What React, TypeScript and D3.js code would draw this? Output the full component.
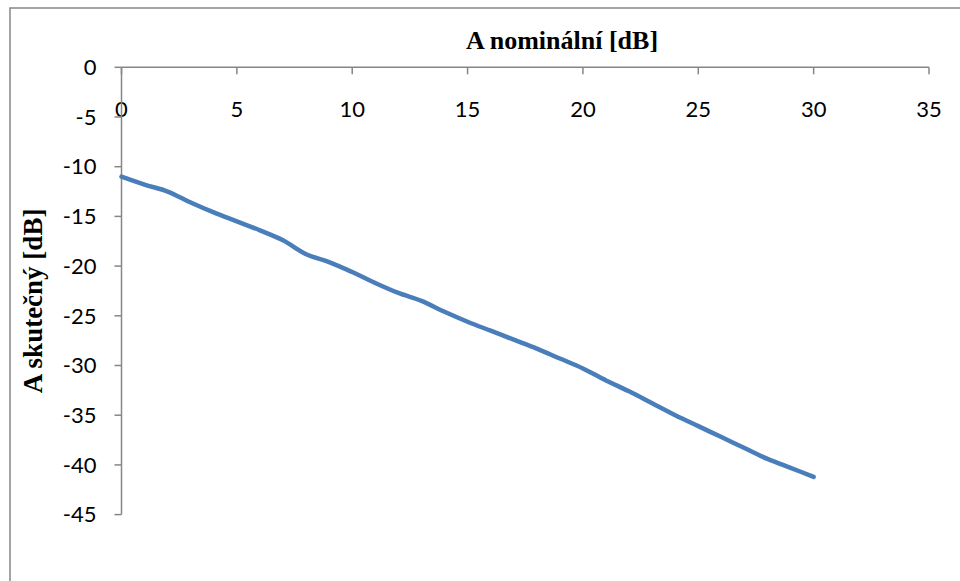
import React from "react";
import * as d3 from "d3";

const xNominal: number[] = [0,1,2,3,4,5,6,7,8,9,10,11,12,13,14,15,16,17,18,19,20,21,22,23,24,25,26,27,28,29,30];
const yActual: number[] = [-11,-11.8,-12.5,-13.6,-14.6,-15.5,-16.4,-17.4,-18.8,-19.6,-20.6,-21.7,-22.7,-23.5,-24.6,-25.6,-26.5,-27.4,-28.3,-29.3,-30.3,-31.5,-32.6,-33.8,-35.0,-36.1,-37.2,-38.3,-39.4,-40.3,-41.2];
const xTicks: number[] = [0,5,10,15,20,25,30,35];
const yTicks: number[] = [0,-5,-10,-15,-20,-25,-30,-35,-40,-45];
const xTitle = "A nominální [dB]";
const yTitle = "A skutečný [dB]";

export default function App() {
  const W = 960, H = 581;
  const x = d3.scaleLinear().domain([0, 35]).range([121.5, 929]);
  const y = d3.scaleLinear().domain([-45, 0]).range([514.6, 67.3]);
  const axisColor = "#868686";
  const tick = 7;
  const line = d3
    .line<number>()
    .x((_, i) => x(xNominal[i]))
    .y((d) => y(d))
    .curve(d3.curveCatmullRom.alpha(0.5));
  const labelFont = "Lato, 'Open Sans', sans-serif";
  const titleFont = "'Liberation Serif', 'Times New Roman', serif";
  return (
    <svg width={W} height={H} style={{ position: "absolute", left: 0, top: 0, background: "#fff" }}>
      <rect x={0} y={0} width={W} height={H} fill="#fff" />
      <rect x={10} y={8} width={1200} height={1200} fill="none" stroke={axisColor} strokeWidth={1.5} />
      <text x={562} y={49} textAnchor="middle" fontFamily={titleFont} fontWeight="bold" fontSize={26} fill="#000">
        {xTitle}
      </text>
      <text
        transform={`translate(42, ${y(-23.5)}) rotate(-90)`}
        textAnchor="middle"
        fontFamily={titleFont}
        fontWeight="bold"
        fontSize={27}
        fill="#000"
      >
        {yTitle}
      </text>
      {/* x axis at top */}
      <line x1={x(0)} x2={x(35)} y1={y(0)} y2={y(0)} stroke={axisColor} strokeWidth={1.5} />
      {xTicks.map((t) => (
        <g key={"xt" + t}>
          <line x1={x(t)} x2={x(t)} y1={y(0)} y2={y(0) + tick} stroke={axisColor} strokeWidth={1.5} />
          <text x={x(t)} y={y(0) + 50} textAnchor="middle" fontFamily={labelFont} fontSize={22} fill="#000">
            {t}
          </text>
        </g>
      ))}
      {/* y axis */}
      <line x1={x(0)} x2={x(0)} y1={y(0)} y2={y(-45)} stroke={axisColor} strokeWidth={1.5} />
      {yTicks.map((t) => (
        <g key={"yt" + t}>
          <line x1={x(0) - tick} x2={x(0)} y1={y(t)} y2={y(t)} stroke={axisColor} strokeWidth={1.5} />
          <text x={x(0) - 25} y={y(t)} dy="0.35em" textAnchor="end" fontFamily={labelFont} fontSize={22} fill="#000">
            {t}
          </text>
        </g>
      ))}
      <path d={line(yActual) || ""} fill="none" stroke="#4A7EBB" strokeWidth={4.5} strokeLinecap="round" strokeLinejoin="round" />
    </svg>
  );
}
